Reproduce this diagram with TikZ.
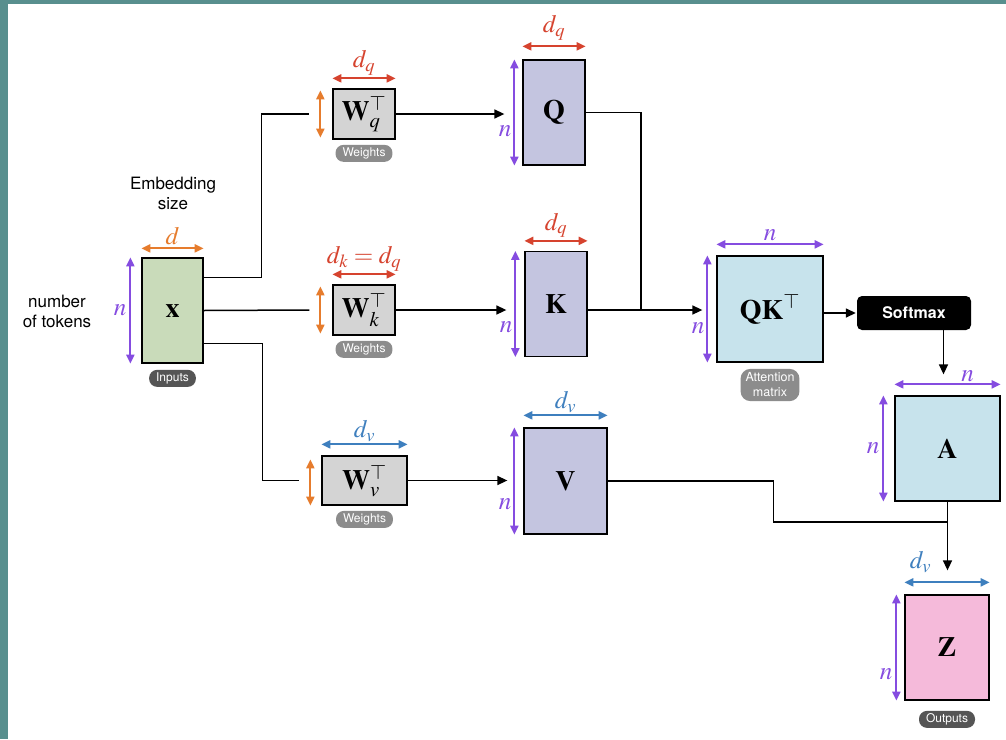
\documentclass[tikz,border=0pt]{standalone}
\usepackage{amsfonts,amsmath}
\usepackage{mathptmx}
\usepackage[no-math]{fontspec}
\setsansfont{TeX Gyre Heros}
\usetikzlibrary{arrows.meta,positioning}

\definecolor{framecol}{RGB}{88,143,142}
\definecolor{xcol}{RGB}{201,219,186}
\definecolor{wcol}{RGB}{212,212,212}
\definecolor{qkvcol}{RGB}{196,197,224}
\definecolor{attcol}{RGB}{199,227,236}
\definecolor{zcol}{RGB}{245,186,218}
\definecolor{orng}{RGB}{230,124,45}
\definecolor{redd}{RGB}{214,67,46}
\definecolor{bluu}{RGB}{62,127,190}
\definecolor{purp}{RGB}{133,76,224}
\definecolor{pilldark}{RGB}{85,85,85}
\definecolor{pilllight}{RGB}{140,140,140}

\tikzset{
	mat/.style={draw=black, line width=1.3pt, inner sep=0pt, font=\fontsize{28}{30}\selectfont},
	dim/.style={{Triangle[length=9pt,width=8pt]}-{Triangle[length=9pt,width=8pt]}, line width=2pt},
	mlab/.style={font=\fontsize{25}{28}\selectfont, inner sep=1pt},
	conn/.style={line width=1.5pt, black},
	arr/.style={-{Triangle[length=10pt,width=9pt]}},
	pill/.style={rounded corners=8pt, text=white, inner xsep=7pt, inner ysep=2pt, minimum height=17pt, font=\sffamily\fontsize{12}{14}\selectfont},
	txt/.style={font=\sffamily\fontsize{17}{20}\selectfont, align=center}
}

\begin{document}
\begin{tikzpicture}[x=1pt,y=-1pt]
		\useasboundingbox (0,0) rectangle (1006,739);
		\fill[framecol] (0,0) rectangle (1006,739);
		\fill[white] (8,4) rectangle (1006,739);
		%side texts
		\node[txt] (emb) at (173,193) {Embedding\\size};
		\node[txt] (ntok) at (57,311) {number\\of tokens};
		%input
		\node[mat, fill=xcol, minimum width=61pt, minimum height=105pt] (x) at (172.5,310.5) {$\mathbf{x}$};
		\node[pill, fill=pilldark, below=6pt of x] (xtag) {Inputs};
		%weights
		\node[mat, fill=wcol, minimum width=62pt, minimum height=50pt] (wq) at (364,114) {$\mathbf{W}_q^{\top}$};
		\node[mat, fill=wcol, minimum width=62pt, minimum height=50pt] (wk) at (364,310) {$\mathbf{W}_k^{\top}$};
		\node[mat, fill=wcol, minimum width=85pt, minimum height=49pt] (wv) at (364.5,480.5) {$\mathbf{W}_v^{\top}$};
		\node[pill, fill=pilllight, below=5pt of wq] (wqtag) {Weights};
		\node[pill, fill=pilllight, below=5pt of wk] (wktag) {Weights};
		\node[pill, fill=pilllight, below=5pt of wv] (wvtag) {Weights};
		%queries, keys, values
		\node[mat, fill=qkvcol, minimum width=62pt, minimum height=105pt] (q) at (554,112.5) {$\mathbf{Q}$};
		\node[mat, fill=qkvcol, minimum width=62pt, minimum height=105pt] (k) at (556,304) {$\mathbf{K}$};
		\node[mat, fill=qkvcol, minimum width=83pt, minimum height=106pt] (v) at (565.5,481) {$\mathbf{V}$};
		%attention
		\node[mat, fill=attcol, minimum width=106pt, minimum height=106pt] (qk) at (770,309) {$\mathbf{QK}^{\top}$};
		\node[pill, fill=pilllight, below=6pt of qk, rounded corners=10pt, align=center, inner xsep=5pt, inner ysep=4pt, font=\sffamily\fontsize{12.5}{15}\selectfont] (qktag) {Attention\\matrix};
		\node[fill=black, rounded corners=5pt, minimum width=114pt, minimum height=34pt, text=white, font=\sffamily\bfseries\fontsize{16}{18}\selectfont] (soft) at (914,313) {Softmax};
		\node[mat, fill=attcol, minimum width=105pt, minimum height=105pt] (a) at (947.5,448.5) {$\mathbf{A}$};
		%output
		\node[mat, fill=zcol, minimum width=84pt, minimum height=105pt] (z) at (947,647.5) {$\mathbf{Z}$};
		\node[pill, fill=pilldark, below=10pt of z] (ztag) {Outputs};
		
		%size arrows
		\draw[dim, orng] ([yshift=9pt]x.north west) -- ([yshift=9pt]x.north east) node[midway, above=2pt, mlab, text=orng] {$d$};
		\draw[dim, purp] ([xshift=-11pt]x.north west) -- ([xshift=-11pt]x.south west) node[midway, left=2pt, mlab, text=purp] {$n$};
		\draw[dim, redd] ([yshift=10pt]wq.north west) -- ([yshift=10pt]wq.north east) node[midway, above=1pt, mlab, text=redd] {$d_q$};
		\draw[dim, orng] ([xshift=-12pt,yshift=-2pt]wq.north west) -- ([xshift=-12pt,yshift=2pt]wq.south west);
		\draw[dim, redd] ([yshift=10pt]wk.north west) -- ([yshift=10pt]wk.north east) node[midway, above=1pt, mlab, text=redd] {$d_k = d_q$};
		\draw[dim, orng] ([xshift=-12pt,yshift=-2pt]wk.north west) -- ([xshift=-12pt,yshift=2pt]wk.south west);
		\draw[dim, bluu] ([yshift=11pt]wv.north west) -- ([yshift=11pt]wv.north east) node[midway, above=1pt, mlab, text=bluu] {$d_v$};
		\draw[dim, orng] ([xshift=-11pt,yshift=-4pt]wv.north west) -- ([xshift=-11pt]wv.south west);
		\draw[dim, redd] ([yshift=13pt]q.north west) -- ([yshift=13pt]q.north east) node[midway, above=4pt, mlab, text=redd] {$d_q$};
		\draw[dim, purp] ([xshift=-8pt]q.north west) -- ([xshift=-8pt]q.south west) node[pos=0.68, left=1pt, mlab, text=purp] {$n$};
		\draw[dim, redd] ([yshift=10pt]k.north west) -- ([yshift=10pt]k.north east) node[midway, above=1pt, mlab, text=redd] {$d_q$};
		\draw[dim, purp] ([xshift=-9pt]k.north west) -- ([xshift=-9pt]k.south west) node[pos=0.72, left=1pt, mlab, text=purp] {$n$};
		\draw[dim, bluu] ([yshift=12pt]v.north west) -- ([yshift=12pt]v.north east) node[midway, above=1pt, mlab, text=bluu] {$d_v$};
		\draw[dim, purp] ([xshift=-9pt]v.north west) -- ([xshift=-9pt]v.south west) node[pos=0.72, left=1pt, mlab, text=purp] {$n$};
		\draw[dim, purp] ([yshift=11pt]qk.north west) -- ([yshift=11pt]qk.north east) node[midway, above=2pt, mlab, text=purp] {$n$};
		\draw[dim, purp] ([xshift=-9pt]qk.north west) -- ([xshift=-9pt]qk.south west) node[pos=0.68, left=1pt, mlab, text=purp] {$n$};
		\draw[dim, purp] ([yshift=11pt]a.north west) -- ([yshift=11pt]a.north east) node[pos=0.69, above=1pt, mlab, text=purp] {$n$};
		\draw[dim, purp] ([xshift=-11pt]a.north west) -- ([xshift=-11pt]a.south west) node[midway, left=2pt, mlab, text=purp] {$n$};
		\draw[dim, bluu] ([yshift=12pt]z.north west) -- ([yshift=12pt]z.north east) node[pos=0.19, above=8pt, mlab, text=bluu] {$d_v$};
		\draw[dim, purp] ([xshift=-8pt]z.north west) -- ([xshift=-8pt]z.south west) node[pos=0.75, left=2pt, mlab, text=purp] {$n$};
		
		%input to weights
		\draw[conn] ([yshift=-20pt]x.north east) -- ++(58,0) |- ([xshift=-23pt]wq.west);
		\draw[conn] (x.east) -- ([xshift=-23pt]wk.west);
		\draw[conn] ([yshift=20pt]x.south east) -- ++(59,0) |- ([xshift=-22pt]wv.west);
		%weights to Q, K, V
		\draw[conn, arr, shorten >=18pt] (wq.east) -- (wq.east -| q.west);
		\draw[conn, arr, shorten >=18pt] (wk.east) -- (wk.east -| k.west);
		\draw[conn, arr, shorten >=16pt] (wv.east) -- (wv.east -| v.west);
		%Q and K to attention
		\coordinate (jn) at (641,310);
		\draw[conn] (q.east) -| (jn);
		\draw[conn, arr, shorten >=14pt] (k.east |- wk.east) -- (wk.east -| qk.west);
		\draw[conn, arr, shorten >=1pt] (qk.east |- soft.west) -- (soft.west);
		\draw[conn, arr, shorten >=21pt] ([xshift=-4pt]a.north |- soft.south) -- ([xshift=-4pt]a.north);
		%V and A to output
		\coordinate (vz) at (947,522);
		\draw[conn] (v.east) -- ++(166,0) |- (vz);
		\draw[conn, arr, shorten >=24pt] (a.south) -- (a.south |- z.north);
	\end{tikzpicture}
\end{document}
